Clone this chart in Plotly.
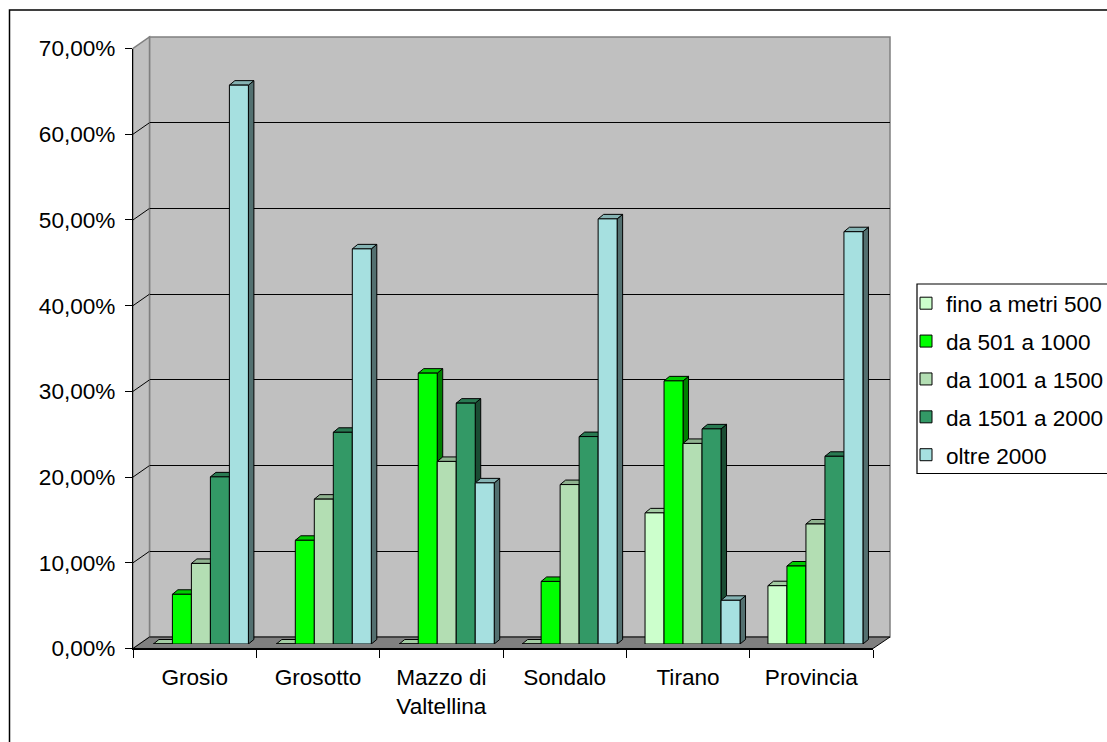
import plotly.graph_objects as go

# ---------------- data ----------------
categories = ["Grosio", "Grosotto", "Mazzo di<br>Valtellina", "Sondalo", "Tirano", "Provincia"]
series_names = ["fino a metri 500", "da 501 a 1000", "da 1001 a 1500", "da 1501 a 2000", "oltre 2000"]
fino_500 = [0.0, 0.0, 0.0, 0.0, 15.3, 6.8]
da_501_1000 = [5.8, 12.1, 31.6, 7.3, 30.7, 9.1]
da_1001_1500 = [9.4, 16.9, 21.3, 18.6, 23.4, 14.0]
da_1501_2000 = [19.5, 24.7, 28.1, 24.2, 25.1, 21.9]
oltre_2000 = [65.2, 46.1, 18.8, 49.6, 5.1, 48.1]
y_tickvals = [0, 10, 20, 30, 40, 50, 60, 70]
y_ticktext = ["0,00%", "10,00%", "20,00%", "30,00%", "40,00%", "50,00%", "60,00%", "70,00%"]

series_values = [fino_500, da_501_1000, da_1001_1500, da_1501_2000, oltre_2000]
colors = ["#CCFFCC", "#00FF00", "#B3DEB3", "#339966", "#A6E0E0"]

# ---------------- geometry helpers ----------------
W, H = 1107, 742
FONT = "Liberation Sans, Arial, sans-serif"
FS = 22.6


def px(x):
    return x / W


def py(y):
    return 1 - y / H


def shade(hexcol, f):
    h = hexcol.lstrip("#")
    r, g, b = (int(h[i:i + 2], 16) for i in (0, 2, 4))
    return "rgb(%d,%d,%d)" % (round(r * f), round(g * f), round(b * f))


# planes (pixels): front axes, back wall, bar plane
FX0, FX1, FY0, FY1 = 133, 873, 648.5, 48.5
BX0, BX1, BY0, BY1 = 149.5, 890, 637, 37
CX0, CX1, CY0, CY1 = 139.45, 876.9, 644.0, 44.0
YMAX = 70
n = len(categories)
cat_px = (CX1 - CX0) / n
px_per_pct = (CY0 - CY1) / YMAX
bw = 19 / cat_px            # bar width in category units
dd = 5.5 / cat_px           # depth offset x (category units)
ee = 4.5 / px_per_pct       # depth offset y (percent units)

fig = go.Figure()

# empty helper traces so the front and back subplots exist
fig.add_trace(go.Scatter(x=[], y=[], xaxis="x", yaxis="y", showlegend=False, hoverinfo="skip"))
fig.add_trace(go.Scatter(x=[], y=[], xaxis="x2", yaxis="y2", showlegend=False, hoverinfo="skip"))

# 3D side and top faces (base subplot x3/y3)
for j, (vals, col) in enumerate(zip(series_values, colors)):
    xs = [i + (j - 2) * bw for i in range(n)]
    sx, sy, tx, ty = [], [], [], []
    for x, v in zip(xs, vals):
        xl, xr = x - bw / 2, x + bw / 2
        sx += [xr, xr + dd, xr + dd, xr, xr, None]
        sy += [0, ee, v + ee, v, 0, None]
        tx += [xl, xr, xr + dd, xl + dd, xl, None]
        ty += [v, v, v + ee, v + ee, v, None]
    fig.add_trace(go.Scatter(x=sx, y=sy, mode="lines", fill="toself", fillcolor=shade(col, 0.5),
                             line=dict(color="black", width=1), xaxis="x3", yaxis="y3",
                             showlegend=False, hoverinfo="skip"))
    fig.add_trace(go.Scatter(x=tx, y=ty, mode="lines", fill="toself", fillcolor=shade(col, 0.8),
                             line=dict(color="black", width=1), xaxis="x3", yaxis="y3",
                             showlegend=False, hoverinfo="skip"))

# front faces of bars (overlay subplot x3/y4)
for j, (name, vals, col) in enumerate(zip(series_names, series_values, colors)):
    xs = [i + (j - 2) * bw for i in range(n)]
    fig.add_trace(go.Bar(x=xs, y=vals, width=bw, name=name, legendgroup=name,
                         marker=dict(color=col, line=dict(color="black", width=1)),
                         xaxis="x3", yaxis="y4", hoverinfo="skip"))

# ---------------- decorative shapes ----------------
shapes = []
# outer chart border
shapes.append(dict(type="rect", xref="paper", yref="paper", x0=px(9.5), x1=px(1300), y0=py(10), y1=py(900),
                   line=dict(color="black", width=1.5), fillcolor="rgba(0,0,0,0)", layer="below"))
# back wall
shapes.append(dict(type="rect", xref="paper", yref="paper", x0=px(BX0), x1=px(BX1), y0=py(BY0), y1=py(BY1),
                   line=dict(color="#808080", width=1.5), fillcolor="#C0C0C0", layer="below"))
# left wall
shapes.append(dict(type="path", xref="paper", yref="paper",
                   path="M%f,%f L%f,%f L%f,%f L%f,%f Z" % (px(FX0), py(FY0), px(BX0), py(BY0),
                                                          px(BX0), py(BY1), px(FX0), py(FY1)),
                   line=dict(color="#808080", width=1.5), fillcolor="#C0C0C0", layer="below"))
# floor
shapes.append(dict(type="path", xref="paper", yref="paper",
                   path="M%f,%f L%f,%f L%f,%f L%f,%f Z" % (px(FX0), py(FY0), px(FX1), py(FY0),
                                                          px(BX1), py(BY0), px(BX0), py(BY0)),
                   line=dict(color="black", width=1), fillcolor="#808080", layer="below"))
# gridlines on the left wall
f_scale = (FY0 - FY1) / YMAX
b_scale = (BY0 - BY1) / YMAX
for v in y_tickvals[1:-1]:
    shapes.append(dict(type="line", xref="paper", yref="paper",
                       x0=px(FX0), y0=py(FY0 - v * f_scale), x1=px(BX0), y1=py(BY0 - v * b_scale),
                       line=dict(color="black", width=1), layer="below"))
# legend box
shapes.append(dict(type="rect", xref="paper", yref="paper", x0=px(917), x1=px(1300), y0=py(284), y1=py(473.5),
                   line=dict(color="black", width=1.2), fillcolor="rgba(0,0,0,0)", layer="below"))

fig.update_layout(
    width=W, height=H,
    margin=dict(l=0, r=0, t=0, b=0, pad=0, autoexpand=False),
    paper_bgcolor="white", plot_bgcolor="rgba(0,0,0,0)",
    font=dict(family=FONT, size=FS, color="black"),
    barmode="overlay",
    showlegend=True,
    legend=dict(x=px(906), y=py(282), xanchor="left", yanchor="top", bgcolor="rgba(0,0,0,0)",
                borderwidth=0, traceorder="grouped", tracegroupgap=5.5,
                font=dict(family=FONT, size=FS, color="black")),
    shapes=shapes,
    xaxis=dict(domain=[px(FX0), px(FX1)], range=[-0.5, n - 0.5], anchor="y",
               tickmode="array", tickvals=list(range(n)), ticktext=categories, ticks="",
               showline=True, linecolor="black", linewidth=1, showgrid=False, zeroline=False,
               minor=dict(tickmode="array", tickvals=[k - 0.5 for k in range(n + 1)], ticks="outside",
                          ticklen=8, tickcolor="black", tickwidth=1, showgrid=False),
               tickfont=dict(family=FONT, size=FS, color="black"), ticklabelstandoff=8, fixedrange=True),
    yaxis=dict(domain=[py(FY0), py(FY1)], range=[0, YMAX], anchor="x",
               tickmode="array", tickvals=y_tickvals, ticktext=y_ticktext,
               ticks="outside", ticklen=7, tickcolor="black", tickwidth=1,
               showline=True, linecolor="black", linewidth=1, showgrid=False, zeroline=False,
               tickfont=dict(family=FONT, size=FS, color="black"), ticklabelstandoff=5, fixedrange=True),
    xaxis2=dict(domain=[px(BX0), px(BX1)], range=[-0.5, n - 0.5], anchor="y2", visible=False),
    yaxis2=dict(domain=[py(BY0), py(BY1)], range=[0, YMAX], anchor="x2",
                tickmode="array", tickvals=y_tickvals[1:-1], showgrid=True, gridcolor="black", gridwidth=1,
                showticklabels=False, ticks="", showline=False, zeroline=False),
    xaxis3=dict(domain=[px(CX0), px(CX1)], range=[-0.5, n - 0.5], anchor="y3", visible=False),
    yaxis3=dict(domain=[py(CY0), py(CY1)], range=[0, YMAX], anchor="x3", visible=False),
    yaxis4=dict(overlaying="y3", range=[0, YMAX], anchor="x3", visible=False),
)

fig.write_html("out.html")
